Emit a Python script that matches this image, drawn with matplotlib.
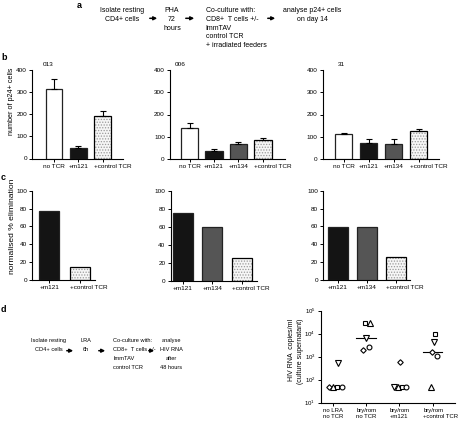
import numpy as np
import matplotlib
matplotlib.use("Agg")
import matplotlib.pyplot as plt

plt.rcParams['font.family'] = ['Liberation Sans', 'DejaVu Sans']
plt.rcParams['mathtext.fontset'] = 'custom'
plt.rcParams['mathtext.rm'] = 'Liberation Sans'
plt.rcParams['mathtext.it'] = 'Liberation Sans:italic'
plt.rcParams['hatch.linewidth'] = 0.6

# ---------------- data ----------------
b_013_labels = ['no TCR', '+m121', '+control TCR']
b_013_values = [312, 48, 191]
b_013_err = [47, 9, 23]

b_006_labels = ['no TCR', '+m121', '+m134', '+control TCR']
b_006_values = [141, 36, 66, 85]
b_006_err = [19, 8, 9, 8]

b_31_labels = ['no TCR', '+m121', '+m134', '+control TCR']
b_31_values = [111, 73, 67, 126]
b_31_err = [4, 15, 21, 9]

c_013_labels = ['+m121', '+control TCR']
c_013_values = [77, 15]
c_006_labels = ['+m121', '+m134', '+control TCR']
c_006_values = [75, 60, 25]
c_31_labels = ['+m121', '+m134', '+control TCR']
c_31_values = [59, 59, 25.5]

d_groups = ['no LRA\nno TCR', 'bry/rom\nno TCR', 'bry/rom\n+m121', 'bry/rom\n+control TCR']
d_tri_down = [550, 6300, 50, 4300]
d_diamond = [50, 1900, 600, 1600]
d_tri_up = [50, 30000, 50, 50]
d_square = [50, 30000, 50, 9300]
d_circle = [50, 2600, 50, 1100]
d_median_shown = [False, True, False, True]
d_yticks = [1e1, 1e2, 1e3, 1e4, 1e5]
d_yticklabels = ['$10^{1}$', '$10^{2}$', '$10^{3}$', '$10^{4}$', '$10^{5}$']

# ---------------- styles ----------------
W, H = 460, 422
TICK_FS = 4.6
D_TICK_FS = 4.3


def rect(x0, x1, ytop, ybot):
    return [x0 / W, 1 - ybot / H, (x1 - x0) / W, (ybot - ytop) / H]


def fx(x):
    return x / W


def fy(y):
    return 1 - y / H


bar_style = {
    'no TCR': dict(color='white', hatch=None),
    '+m121': dict(color='#141414', hatch=None),
    '+m134': dict(color='#555555', hatch=None),
    '+control TCR': dict(color='#f6f6f6', hatch='......'),
}


def style_axes(ax, fs=TICK_FS):
    for s in ['top', 'right']:
        ax.spines[s].set_visible(False)
    for s in ['left', 'bottom']:
        ax.spines[s].set_linewidth(0.8)
    ax.tick_params(axis='both', length=2.5, width=0.7, labelsize=fs, pad=1.2)


def draw_bars(ax, labels, values, width, err=None):
    x = np.arange(len(labels))
    for i, lab in enumerate(labels):
        st = bar_style[lab]
        if st['hatch']:
            ax.bar(x[i], values[i], width=width, color=st['color'], edgecolor='#9a9a9a',
                   hatch=st['hatch'], linewidth=0, zorder=2)
            ax.bar(x[i], values[i], width=width, fill=False, edgecolor='black',
                   linewidth=0.9, zorder=3)
        else:
            ax.bar(x[i], values[i], width=width, color=st['color'], edgecolor='#222222',
                   linewidth=0.9, zorder=3)
    if err is not None:
        ax.errorbar(x, values, yerr=[np.zeros(len(err)), err], fmt='none', ecolor='black',
                    elinewidth=0.8, capsize=2.3, capthick=0.8, zorder=4)
    ax.set_xticks(x)
    # last label ('+control TCR') starts at the bar's left edge
    ax.set_xticklabels(list(labels[:-1]) + [''])
    ax.annotate(labels[-1], xy=(x[-1] - width / 2, 0), xycoords=('data', 'axes fraction'),
                xytext=(0, -3.7), textcoords='offset points', ha='left', va='top',
                fontsize=TICK_FS)


fig = plt.figure(figsize=(4.6, 4.22), dpi=100)

# ---------------- panel b ----------------
b_specs = [
    (rect(32.3, 123, 70, 158.5), b_013_labels, b_013_values, b_013_err, (-0.89, 2.83), 0.68, '013', 48.5),
    (rect(170, 285, 70, 159), b_006_labels, b_006_values, b_006_err, (-0.8, 3.91), 0.72, '006', 180),
    (rect(322.7, 439, 70, 159), b_31_labels, b_31_values, b_31_err, (-0.84, 3.81), 0.7, '31', 341.7),
]
for pos, labs, vals, errs, xl, w, title, tx in b_specs:
    ax = fig.add_axes(pos)
    draw_bars(ax, labs, vals, w, errs)
    ax.set_ylim(0, 400)
    ax.set_yticks([0, 100, 200, 300, 400])
    ax.set_xlim(*xl)
    style_axes(ax)
    fig.text(fx(tx), fy(64.5), title, fontsize=TICK_FS, ha='center', va='center')

fig.text(fx(12), fy(101), 'number of p24+ cells', rotation=90, fontsize=5.2,
         ha='center', va='center')

# ---------------- panel c ----------------
c_specs = [
    (rect(32.3, 95, 190.7, 280), c_013_labels, c_013_values, (-0.56, 1.51), 0.66),
    (rect(170.7, 256.7, 190.7, 281), c_006_labels, c_006_values, (-0.41, 2.51), 0.68),
    (rect(323.3, 410, 190.7, 280), c_31_labels, c_31_values, (-0.51, 2.49), 0.67),
]
for pos, labs, vals, xl, w in c_specs:
    ax = fig.add_axes(pos)
    draw_bars(ax, labs, vals, w)
    ax.set_ylim(0, 100)
    ax.set_yticks([0, 20, 40, 60, 80, 100])
    ax.set_xlim(*xl)
    style_axes(ax)

fig.text(fx(12.5), fy(226), 'normalised % elimination', rotation=90, fontsize=6.1,
         ha='center', va='center')

# ---------------- panel d scatter ----------------
ax = fig.add_axes(rect(320.7, 455, 310.7, 402.7))
series = [
    (d_tri_down, 'v', 3.8, [0.14, 0.0, -0.15, 0.06]),
    (d_diamond, 'D', 2.8, [-0.12, -0.09, 0.02, -0.02]),
    (d_tri_up, '^', 3.8, [0.0, 0.12, -0.04, -0.05]),
    (d_square, 's', 3.4, [0.12, -0.05, 0.08, 0.09]),
    (d_circle, 'o', 3.5, [0.25, 0.07, 0.2, 0.14]),
]
xg = np.arange(len(d_groups))
for vals, mk, ms, offs in series:
    ax.plot(xg + np.array(offs), vals, linestyle='none', marker=mk, markersize=ms,
            markerfacecolor='white', markeredgecolor='black', markeredgewidth=0.8, zorder=3)
all_vals = np.array([s[0] for s in series])
meds = np.median(all_vals, axis=0)
for i, m in enumerate(meds):
    if d_median_shown[i]:
        ax.plot([i - 0.3, i + 0.3], [m, m], color='black', linewidth=0.8, zorder=2)
ax.set_yscale('log')
ax.set_ylim(10, 1e5)
ax.set_yticks(d_yticks)
ax.set_yticklabels(d_yticklabels)
ax.minorticks_off()
ax.set_xlim(-0.38, 3.68)
ax.set_xticks(xg)
ax.set_xticklabels(list(d_groups[:-1]) + [''])
style_axes(ax, D_TICK_FS)
ax.tick_params(axis='y', labelsize=4.4)
ax.annotate(d_groups[-1], xy=(xg[-1] - 0.28, 0), xycoords=('data', 'axes fraction'),
            xytext=(0, -3.7), textcoords='offset points', ha='left', va='top',
            fontsize=D_TICK_FS, multialignment='left')
fig.text(fx(292), fy(350), 'HIV RNA  copies/ml', rotation=90, fontsize=5.0,
         ha='center', va='center')
fig.text(fx(300.5), fy(351), '(culture supernatant)', rotation=90, fontsize=5.0,
         ha='center', va='center')

# ---------------- flowcharts ----------------
FLOW_A = 5.0
LS_A = 1.35
fig.text(fx(122), fy(7), 'Isolate resting\nCD4+ cells', fontsize=FLOW_A, ha='center', va='top',
         linespacing=LS_A)
fig.text(fx(172), fy(7), 'PHA\n72\nhours', fontsize=FLOW_A, ha='center', va='top', linespacing=LS_A)
fig.text(fx(205.7), fy(7), 'Co-culture with:\nCD8+  T cells +/-\nImmTAV\ncontrol TCR\n+ irradiated feeders',
         fontsize=FLOW_A, ha='left', va='top', linespacing=LS_A)
fig.text(fx(312), fy(7), 'analyse p24+ cells\non day 14', fontsize=FLOW_A, ha='center', va='top',
         linespacing=LS_A)

FLOW_D = 4.1
LS_D = 2.0
fig.text(fx(49), fy(338), 'Isolate resting\nCD4+ cells', fontsize=FLOW_D, ha='center', va='top',
         linespacing=LS_D)
fig.text(fx(86), fy(338), 'LRA\n6h', fontsize=FLOW_D, ha='center', va='top', linespacing=LS_D)
fig.text(fx(113.3), fy(338), 'Co-culture with:\nCD8+  T cells +/-\nImmTAV\ncontrol TCR',
         fontsize=FLOW_D, ha='left', va='top', linespacing=LS_D)
fig.text(fx(171), fy(338), 'analyse\nHIV RNA\nafter\n48 hours', fontsize=FLOW_D, ha='center',
         va='top', linespacing=LS_D)


def arrow(x0, x1, y):
    fig.add_artist(matplotlib.patches.FancyArrowPatch(
        (fx(x0), fy(y)), (fx(x1), fy(y)), transform=fig.transFigure,
        arrowstyle='-|>', mutation_scale=5, linewidth=1.1, color='black'))


arrow(147, 160, 18.3)
arrow(183, 197, 18.3)
arrow(265, 278, 18.3)
arrow(64, 76, 350.7)
arrow(96, 108, 350.7)
arrow(146, 157, 350.7)

# ---------------- panel letters ----------------
for letter, x, y in [('a', 77, 6), ('b', 1, 58), ('c', 1, 178), ('d', 1, 310)]:
    fig.text(fx(x), fy(y), letter, fontsize=6.5, fontweight='bold', ha='left', va='center')

fig.savefig('out.png', dpi=100)
